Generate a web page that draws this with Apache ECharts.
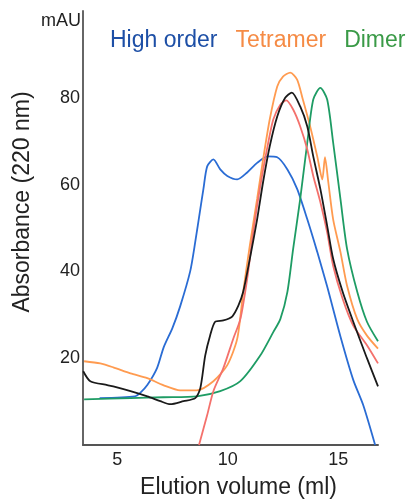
<!DOCTYPE html>
<html>
<head>
<meta charset="utf-8">
<script src="https://cdn.jsdelivr.net/npm/echarts@6/dist/echarts.min.js"></script>
<style>
  html, body { margin: 0; padding: 0; background: #fff; }
  #chart { width: 411px; height: 504px; }
</style>
</head>
<body>
<div id="chart"></div>
<script>
// elution volume (ml) / absorbance (mAU)
const highOrderX = [4.2, 5.8, 6.04, 6.36, 6.8, 7.1, 7.5, 7.85, 8.3, 8.53, 8.76, 8.9, 9.07, 9.35, 9.66, 9.98, 10.43, 10.88, 11.33, 11.8, 12.24, 12.7, 13.14, 13.6, 14.05, 14.5, 15.1, 15.68, 16.13, 16.67];
const highOrderY = [10.8, 11.2, 12, 13.8, 17.7, 22.5, 27, 32, 40, 46.8, 54.4, 59, 64.2, 65.8, 63.5, 62, 61.2, 62.8, 65, 66.5, 66.3, 63.5, 59, 52, 44.5, 36.5, 25, 15, 9.2, 0];

const tetramerX = [3.5, 4.23, 4.82, 5.6, 6.36, 7.08, 7.85, 8.6, 9.35, 9.98, 10.43, 10.7, 11, 11.33, 11.6, 11.9, 12.24, 12.5, 12.83, 13.14, 13.4, 13.73, 14.05, 14.28, 14.4, 14.55, 14.77, 15.1, 15.4, 15.86, 16.3, 16.8];
const tetramerY = [19.3, 18.8, 17.9, 16.5, 15.4, 13.8, 12.6, 12.6, 14.7, 18.4, 24.5, 35.3, 46, 56.7, 65.8, 75, 82.6, 84.9, 85.8, 84.2, 79.6, 73.4, 66.5, 61.2, 66.3, 60.6, 52, 44.5, 36.7, 29, 25.2, 22.2];

const dimerX = [3.5, 5.6, 7.08, 8.6, 9.66, 10.57, 11.47, 12.06, 12.38, 12.7, 12.96, 13.28, 13.6, 13.87, 14.19, 14.5, 14.77, 15.1, 15.4, 15.86, 16.3, 16.8];
const dimerY = [10.5, 10.8, 11, 11.2, 12.4, 14.7, 20.6, 26, 29, 35.3, 45.2, 56.7, 69.7, 79.6, 82.3, 79.6, 69.7, 56.7, 45.2, 35.3, 28.4, 23.9];

const redX = [8.7, 9.07, 9.35, 9.8, 10.25, 10.57, 10.88, 11.15, 11.47, 11.8, 12.06, 12.38, 12.65, 12.96, 13.28, 13.6, 13.87, 14.19, 14.5, 14.77, 15.2, 15.68, 16.3, 16.8];
const redY = [0, 6.9, 12.4, 17.7, 24.5, 29, 38.3, 49, 59.6, 68.8, 75, 78.4, 79.4, 77.3, 73.4, 68.1, 62, 56, 49, 41.3, 33.7, 27.5, 23, 18.8];

const blackX = [3.46, 3.78, 4.55, 4.82, 5.6, 6.36, 6.95, 7.4, 8, 8.53, 8.76, 8.98, 9.2, 9.43, 9.8, 10.2, 10.48, 10.7, 11, 11.33, 11.6, 11.9, 12.24, 12.6, 12.9, 13.28, 13.6, 13.87, 14.19, 14.5, 14.77, 15.2, 15.68, 16.3, 16.8];
const blackY = [17, 14.7, 13.8, 13.5, 12.4, 11.2, 10.1, 9.4, 10.1, 10.8, 13.1, 20.6, 25.2, 28.4, 28.7, 29.6, 32.1, 35.3, 42.9, 52, 60.6, 68.8, 75.7, 80, 81.2, 78, 73.4, 66.5, 59, 50.5, 42.9, 35.3, 28.4, 20, 13.5];

const xTicks = [5, 10, 15];
const yTicks = [20, 40, 60, 80];

function pairs(xs, ys) {
  return xs.map((x, i) => [x, ys[i]]);
}

let myChart = echarts.init(document.getElementById("chart"));
myChart.setOption({
  backgroundColor: "#fff",
  animation: false,
  textStyle: { fontFamily: "Liberation Sans" },
  grid: { left: 83, right: 33, top: 11, bottom: 57 },
  legend: {
    left: 105,
    top: 29,
    width: 306,
    padding: 0,
    icon: "none",
    itemWidth: 0,
    itemGap: 13,
    selectedMode: false,
    textStyle: { fontSize: 23 },
    data: [
      { name: "High order", textStyle: { color: "#1d4fa6" } },
      { name: "Tetramer", textStyle: { color: "#f58b45" } },
      { name: "Dimer", textStyle: { color: "#3a9a47" } }
    ]
  },
  graphic: [
    {
      type: "text",
      right: 411 - 81,
      top: 12,
      style: { text: "mAU", fontSize: 18, fill: "#222", fontFamily: "Liberation Sans" }
    }
  ],
  xAxis: {
    type: "value",
    min: 3.45,
    max: 16.8,
    name: "Elution volume (ml)",
    nameLocation: "middle",
    nameGap: 31,
    nameTextStyle: { fontSize: 23, color: "#222", padding: [0, 0, 0, 16] },
    axisLine: { lineStyle: { color: "#555", width: 2 } },
    axisTick: { show: false },
    splitLine: { show: false },
    axisLabel: { customValues: xTicks, fontSize: 18, color: "#222", margin: 6 }
  },
  yAxis: {
    type: "value",
    min: 0,
    max: 100,
    interval: 20,
    name: "Absorbance (220 nm)",
    nameLocation: "middle",
    nameGap: 49,
    nameTextStyle: { fontSize: 23, color: "#222", padding: [0, 0, 0, 52] },
    axisLine: { show: true, lineStyle: { color: "#666", width: 2 } },
    axisTick: { show: false },
    splitLine: { show: false },
    axisLabel: {
      fontSize: 18,
      color: "#222",
      margin: 3,
      formatter: v => (yTicks.indexOf(v) >= 0 ? String(v) : "")
    }
  },
  series: [
    { name: "High order", type: "line", data: pairs(highOrderX, highOrderY), color: "#2a6cd4" },
    { name: "Tetramer", type: "line", data: pairs(tetramerX, tetramerY), color: "#ff9b50" },
    { name: "Dimer", type: "line", data: pairs(dimerX, dimerY), color: "#1e9c64" },
    { name: "Red", type: "line", data: pairs(redX, redY), color: "#f4716c" },
    { name: "Black", type: "line", data: pairs(blackX, blackY), color: "#1a1a1a" }
  ].map(s => Object.assign(s, {
    smooth: 0.25,
    showSymbol: false,
    lineStyle: { width: 1.8 }
  }))
});
</script>
</body>
</html>
